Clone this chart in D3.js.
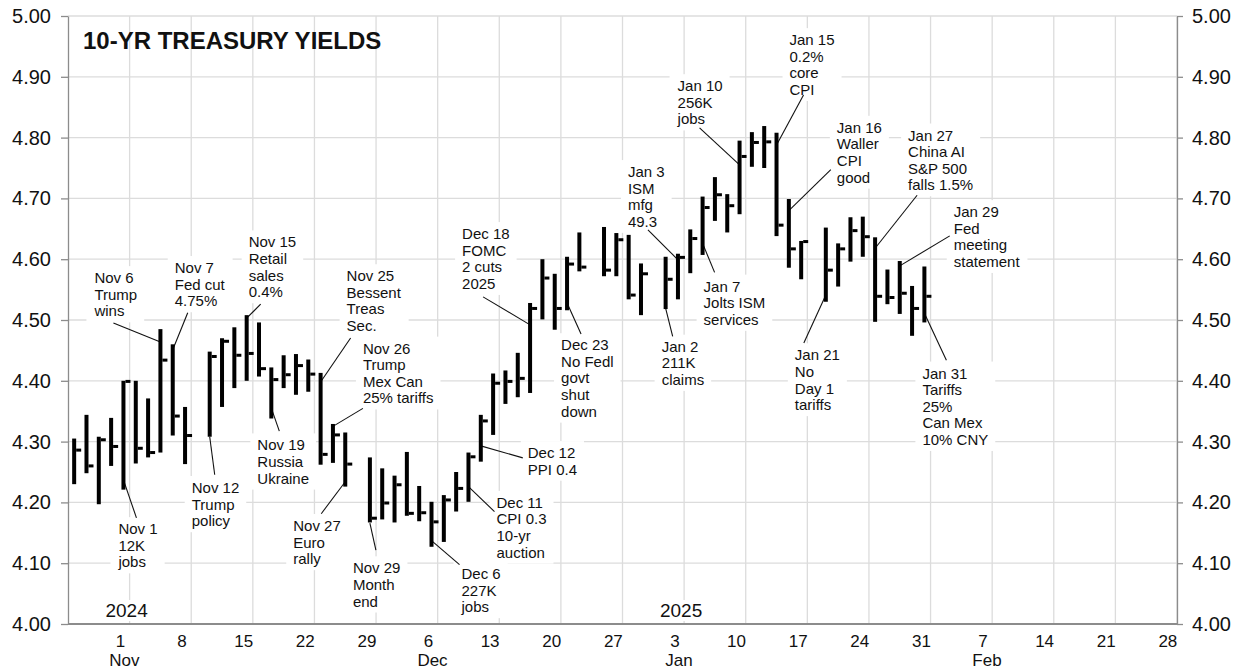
<!DOCTYPE html>
<html>
<head>
<meta charset="utf-8">
<script src="https://cdn.jsdelivr.net/npm/d3@7"></script>
<style>
body { margin: 0; background: #fff; }
text { font-family: "Liberation Sans", Arial, sans-serif; fill: #111; }
</style>
</head>
<body>
<svg id="chart" width="1245" height="671"></svg>
<script>
// Trading days shown (bond market holidays left out)
var days = [
	"2024-10-28","2024-10-29","2024-10-30","2024-10-31","2024-11-01",
	"2024-11-04","2024-11-05","2024-11-06","2024-11-07","2024-11-08",
	"2024-11-12","2024-11-13","2024-11-14","2024-11-15",
	"2024-11-18","2024-11-19","2024-11-20","2024-11-21","2024-11-22",
	"2024-11-25","2024-11-26","2024-11-27","2024-11-29",
	"2024-12-02","2024-12-03","2024-12-04","2024-12-05","2024-12-06",
	"2024-12-09","2024-12-10","2024-12-11","2024-12-12","2024-12-13",
	"2024-12-16","2024-12-17","2024-12-18","2024-12-19","2024-12-20",
	"2024-12-23","2024-12-24","2024-12-26","2024-12-27",
	"2024-12-30","2024-12-31","2025-01-02","2025-01-03",
	"2025-01-06","2025-01-07","2025-01-08","2025-01-09","2025-01-10",
	"2025-01-13","2025-01-14","2025-01-15","2025-01-16","2025-01-17",
	"2025-01-21","2025-01-22","2025-01-23","2025-01-24",
	"2025-01-27","2025-01-28","2025-01-29","2025-01-30","2025-01-31"
];

var highs = [
	4.305, 4.344, 4.308, 4.339, 4.400,
	4.400, 4.371, 4.485, 4.460, 4.357,
	4.448, 4.470, 4.488, 4.508,
	4.496, 4.422, 4.442, 4.444, 4.435,
	4.413, 4.329, 4.315, 4.274,
	4.256, 4.244, 4.283, 4.227, 4.201,
	4.212, 4.250, 4.282, 4.344, 4.412,
	4.417, 4.446, 4.528, 4.600, 4.576,
	4.604, 4.644, 4.653, 4.643,
	4.640, 4.593, 4.604, 4.609,
	4.649, 4.703, 4.735, 4.707, 4.795,
	4.809, 4.819, 4.808, 4.699, 4.630,
	4.652, 4.626, 4.669, 4.670,
	4.636, 4.583, 4.597, 4.556, 4.588
];

var lows = [
	4.230, 4.248, 4.197, 4.260, 4.221,
	4.264, 4.274, 4.282, 4.310, 4.263,
	4.308, 4.357, 4.388, 4.400,
	4.407, 4.338, 4.388, 4.377, 4.382,
	4.262, 4.265, 4.226, 4.167,
	4.172, 4.167, 4.178, 4.169, 4.127,
	4.135, 4.185, 4.201, 4.267, 4.311,
	4.362, 4.373, 4.380, 4.501, 4.484,
	4.516, 4.580, 4.572, 4.572,
	4.534, 4.508, 4.518, 4.534,
	4.577, 4.607, 4.663, 4.644, 4.674,
	4.752, 4.750, 4.638, 4.586, 4.567,
	4.530, 4.555, 4.596, 4.604,
	4.497, 4.526, 4.510, 4.474, 4.496
];

var closes = [
	4.286, 4.260, 4.303, 4.292, 4.399,
	4.289, 4.282, 4.434, 4.342, 4.310,
	4.440, 4.465, 4.442, 4.445,
	4.420, 4.402, 4.410, 4.425, 4.411,
	4.279, 4.311, 4.263, 4.174,
	4.199, 4.229, 4.182, 4.183, 4.168,
	4.204, 4.223, 4.275, 4.334, 4.396,
	4.399, 4.404, 4.519, 4.569, 4.519,
	4.592, 4.587, 4.582, 4.632,
	4.541, 4.576, 4.567, 4.603,
	4.634, 4.685, 4.706, 4.688, 4.769,
	4.792, 4.793, 4.656, 4.617, 4.629,
	4.582, 4.617, 4.647, 4.637,
	4.539, 4.537, 4.544, 4.519, 4.539
];

var yTicks = [4.0, 4.1, 4.2, 4.3, 4.4, 4.5, 4.6, 4.7, 4.8, 4.9, 5.0];
var months = ["Nov", "Dec", "Jan", "Feb"];
var years = ["2024", "2025"];

// Event notes: bar date, yield where the leader meets the bar, label offset
var notes = [
	{ day: "2024-11-01", at: 4.237, dx: -5, dy: 49, sx: 13, sy: 38, lines: ["Nov 1", "12K", "jobs"] },
	{ day: "2024-11-06", at: 4.464, dx: -66, dy: -64, sx: -47, sy: -19, lines: ["Nov 6", "Trump", "wins"] },
	{ day: "2024-11-07", at: 4.451, dx: 2, dy: -82, sx: 15, sy: -37, lines: ["Nov 7", "Fed cut", "4.75%"] },
	{ day: "2024-11-12", at: 4.308, dx: -18, dy: 51, sx: 5, sy: 38, lines: ["Nov 12", "Trump", "policy"] },
	{ day: "2024-11-15", at: 4.503, dx: 2, dy: -76, sx: 14, sy: -14, lines: ["Nov 15", "Retail", "sales", "0.4%"] },
	{ day: "2024-11-19", at: 4.355, dx: -14, dy: 37, sx: 8, sy: 23, lines: ["Nov 19", "Russia", "Ukraine"] },
	{ day: "2024-11-25", at: 4.398, dx: 26, dy: -106, sx: 30, sy: -44, lines: ["Nov 25", "Bessent", "Treas", "Sec."] },
	{ day: "2024-11-26", at: 4.325, dx: 30, dy: -78, sx: 30, sy: -18, lines: ["Nov 26", "Trump", "Mex Can", "25% tariffs"] },
	{ day: "2024-11-27", at: 4.234, dx: -52, dy: 44, sx: -24, sy: 32, lines: ["Nov 27", "Euro", "rally"] },
	{ day: "2024-11-29", at: 4.166, dx: -17, dy: 45, sx: 6, sy: 27, lines: ["Nov 29", "Month", "end"] },
	{ day: "2024-12-06", at: 4.137, dx: 30, dy: 33, sx: 28, sy: 24, lines: ["Dec 6", "227K", "jobs"] },
	{ day: "2024-12-11", at: 4.226, dx: 28, dy: 16, sx: 26, sy: 25, lines: ["Dec 11", "CPI 0.3", "10-yr", "auction"] },
	{ day: "2024-12-12", at: 4.293, dx: 47, dy: 7, sx: 42, sy: 12, lines: ["Dec 12", "PPI 0.4"] },
	{ day: "2024-12-18", at: 4.492, dx: -68, dy: -91, sx: -47, sy: -28, lines: ["Dec 18", "FOMC", "2 cuts", "2025"] },
	{ day: "2024-12-23", at: 4.528, dx: -6, dy: 42, sx: 14, sy: 31, lines: ["Dec 23", "No Fedl", "govt", "shut", "down"] },
	{ day: "2025-01-02", at: 4.519, dx: -4, dy: 38, sx: 7, sy: 28, lines: ["Jan 2", "211K", "claims"] },
	{ day: "2025-01-03", at: 4.599, dx: -50, dy: -88, sx: -30, sy: -30, lines: ["Jan 3", "ISM", "mfg", "49.3"] },
	{ day: "2025-01-07", at: 4.626, dx: 1, dy: 43, sx: 12, sy: 29, lines: ["Jan 7", "Jolts ISM", "services"] },
	{ day: "2025-01-10", at: 4.755, dx: -62, dy: -79, sx: -40, sy: -37, lines: ["Jan 10", "256K", "jobs"] },
	{ day: "2025-01-15", at: 4.788, dx: 13, dy: -105, sx: 27, sy: -50, lines: ["Jan 15", "0.2%", "core", "CPI"] },
	{ day: "2025-01-16", at: 4.680, dx: 48, dy: -83, sx: 42, sy: -41, lines: ["Jan 16", "Waller", "CPI", "good"] },
	{ day: "2025-01-21", at: 4.541, dx: -31, dy: 60, sx: -22, sy: 48, lines: ["Jan 21", "No", "Day 1", "tariffs"] },
	{ day: "2025-01-27", at: 4.618, dx: 33, dy: -113, sx: 42, sy: -53, lines: ["Jan 27", "China AI", "S&P 500", "falls 1.5%"] },
	{ day: "2025-01-29", at: 4.589, dx: 54, dy: -54, sx: 50, sy: -30, lines: ["Jan 29", "Fed", "meeting", "statement"] },
	{ day: "2025-01-31", at: 4.511, dx: -2, dy: 60, sx: 22, sy: 47, lines: ["Jan 31", "Tariffs", "25%", "Can Mex", "10% CNY"] }
];

var parse = d3.timeParse("%Y-%m-%d");
var startDay = parse("2024-10-28");
var endDay = parse("2025-03-01");

// business-day slot of a date (weekends skipped, holidays keep their slot)
function slot(date) {
	return d3.timeDay.range(startDay, date).filter(function(d) {
		return d.getDay() !== 0 && d.getDay() !== 6;
	}).length;
}

var totalSlots = slot(endDay);
var plotL = 68, plotR = 1177, plotT = 16, plotB = 624;

var x = d3.scaleLinear().domain([0, totalSlots]).range([plotL, plotR]);
var y = d3.scaleLinear().domain([4, 5]).range([plotB, plotT]);
function xc(date) { return x(slot(date) + 0.5); }

var svg = d3.select("#chart");

var bars = days.map(function(d, i) {
	return { date: parse(d), high: highs[i], low: lows[i], close: closes[i] };
});

var fridays = d3.timeFriday.range(parse("2024-11-01"), endDay);

// gridlines
var grid = svg.append("g").attr("class", "grid");
grid.selectAll("line.h")
	.data(yTicks)
	.enter().append("line")
		.attr("x1", plotL).attr("x2", plotR)
		.attr("y1", function(d) { return y(d); })
		.attr("y2", function(d) { return y(d); })
		.attr("stroke", "#dcdcdc")
		.attr("stroke-width", 1.3);
grid.selectAll("line.v")
	.data(fridays)
	.enter().append("line")
		.attr("x1", function(d) { return x(slot(d) + 1); })
		.attr("x2", function(d) { return x(slot(d) + 1); })
		.attr("y1", plotT).attr("y2", plotB)
		.attr("stroke", "#dcdcdc")
		.attr("stroke-width", 1.3);

// axes
var fmt = d3.format(".2f");
var yLeft = svg.append("g")
	.attr("transform", "translate(" + plotL + ",0)")
	.call(d3.axisLeft(y).tickValues(yTicks).tickFormat(fmt).tickSize(7).tickSizeOuter(0).tickPadding(10));
var yRight = svg.append("g")
	.attr("transform", "translate(" + plotR + ",0)")
	.call(d3.axisRight(y).tickValues(yTicks).tickFormat(fmt).tickSize(6).tickSizeOuter(0).tickPadding(9));
[yLeft, yRight].forEach(function(g) {
	g.selectAll("path, line").attr("stroke", "#8c8c8c").attr("stroke-width", 1.3);
	g.selectAll("text")
		.attr("font-size", 20)
		.attr("fill", "#111")
		.style("font-family", "'Liberation Sans', Arial, sans-serif");
});

svg.append("line")
	.attr("x1", plotL).attr("x2", plotR)
	.attr("y1", plotB).attr("y2", plotB)
	.attr("stroke", "#8c8c8c")
	.attr("stroke-width", 2);

// week labels (Fridays), month labels under the first week of each month
svg.append("g").selectAll("text")
	.data(fridays)
	.enter().append("text")
		.attr("x", function(d) { return xc(d) - 3; })
		.attr("y", 647)
		.attr("text-anchor", "middle")
		.attr("font-size", 17)
		.text(function(d) { return d.getDate(); });

var firstFridays = fridays.filter(function(d) { return d.getDate() <= 7; });
svg.append("g").selectAll("text")
	.data(firstFridays)
	.enter().append("text")
		.attr("x", function(d) { return xc(d) + 1; })
		.attr("y", 666)
		.attr("text-anchor", "middle")
		.attr("font-size", 17)
		.text(function(d, i) { return months[i]; });

// notes: white boxes first, then leaders, bars, then text on top
var noteBoxes = svg.append("g");
var leaders = svg.append("g");
var barLayer = svg.append("g");
var noteText = svg.append("g");

// year labels sit on the gridline that follows the first week of the year
var yearFridays = [parse("2024-11-01"), parse("2025-01-03")];
yearFridays.forEach(function(d, i) {
	var t = noteText.append("text")
		.attr("x", x(slot(d) + 1) - 3)
		.attr("y", 617)
		.attr("text-anchor", "middle")
		.attr("font-size", 19)
		.text(years[i]);
	var b = t.node().getBBox();
	noteBoxes.append("rect")
		.attr("x", b.x - 2).attr("y", b.y)
		.attr("width", b.width + 4).attr("height", b.height)
		.attr("fill", "#fff");
});

// title
noteText.append("text")
	.attr("x", 83)
	.attr("y", 49)
	.attr("font-size", 24)
	.attr("font-weight", "bold")
	.text("10-YR TREASURY YIELDS");

var lineH = 16.6;
notes.forEach(function(n) {
	var d = parse(n.day);
	var bx = xc(d), by = y(n.at);
	var t = noteText.append("text")
		.attr("font-size", 15);
	n.lines.forEach(function(s, i) {
		t.append("tspan")
			.attr("x", bx + n.dx)
			.attr("y", by + n.dy + i * lineH)
			.attr("dy", "0.35em")
			.text(s);
	});
	var b = t.node().getBBox();
	noteBoxes.append("rect")
		.attr("x", b.x - 7).attr("y", b.y - 3)
		.attr("width", b.width + 14).attr("height", b.height + 6)
		.attr("fill", "#fff");
	leaders.append("line")
		.attr("x1", bx).attr("y1", by)
		.attr("x2", bx + n.sx).attr("y2", by + n.sy)
		.attr("stroke", "#111")
		.attr("stroke-width", 1.1);
});

// high-low bars with close tick on the right
barLayer.selectAll("rect.hl")
	.data(bars)
	.enter().append("rect")
		.attr("x", function(d) { return xc(d.date) - 2; })
		.attr("y", function(d) { return y(d.high); })
		.attr("width", 4)
		.attr("height", function(d) { return y(d.low) - y(d.high); })
		.attr("fill", "#000");
barLayer.selectAll("rect.cl")
	.data(bars)
	.enter().append("rect")
		.attr("x", function(d) { return xc(d.date) + 2; })
		.attr("y", function(d) { return y(d.close) - 1.5; })
		.attr("width", 5)
		.attr("height", 3)
		.attr("fill", "#000");
</script>
</body>
</html>
